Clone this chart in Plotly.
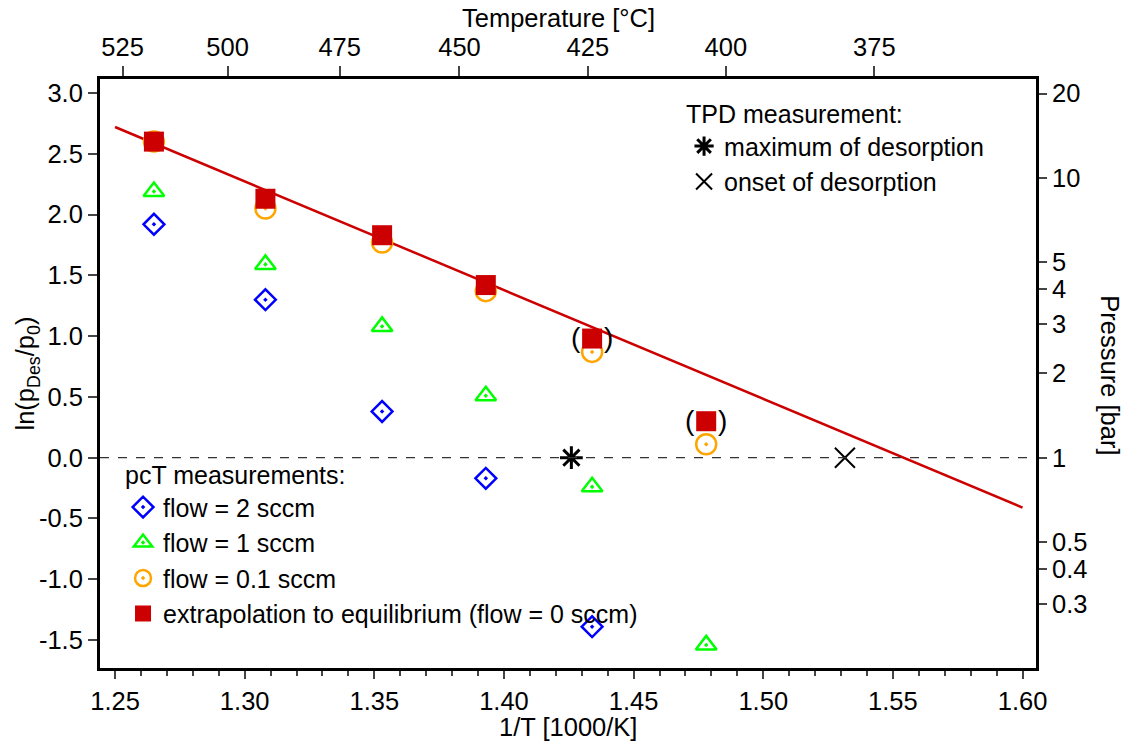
import numpy as np
import plotly.graph_objects as go

# ---- data ----
flow2_x = [1.265, 1.308, 1.353, 1.393, 1.434]
flow2_y = [1.92, 1.30, 0.38, -0.17, -1.39]
flow1_x = [1.265, 1.308, 1.353, 1.393, 1.434, 1.478]
flow1_y = [2.19, 1.59, 1.08, 0.51, -0.24, -1.54]
flow01_x = [1.265, 1.308, 1.353, 1.393, 1.434, 1.478]
flow01_y = [2.60, 2.05, 1.77, 1.37, 0.87, 0.11]
equil_x = [1.265, 1.308, 1.353, 1.393, 1.434, 1.478]
equil_y = [2.60, 2.13, 1.83, 1.42, 0.98, 0.30]
bracket_x = [1.434, 1.478]      # points marked with parentheses
bracket_y = [0.98, 0.30]
fit_x = [1.25, 1.60]
fit_y = [2.72, -0.41]
tpd_max_x = [1.426]
tpd_max_y = [0.0]
tpd_onset_x = [1.5315]
tpd_onset_y = [0.0]
ref_line_y = 0.0                # ln(1 bar)

x_range = [1.2442, 1.6052]
y_range = [-1.73, 3.115]
x_ticks = [1.25, 1.30, 1.35, 1.40, 1.45, 1.50, 1.55, 1.60]
y_ticks = [-1.5, -1.0, -0.5, 0.0, 0.5, 1.0, 1.5, 2.0, 2.5, 3.0]
temp_labels = [525, 500, 475, 450, 425, 400, 375]          # °C
pressure_labels = [20, 10, 5, 4, 3, 2, 1, 0.5, 0.4, 0.3]    # bar

FONT = "Liberation Sans, Arial, sans-serif"
FS = 25.5
LFS = 25

fig = go.Figure()

# fitted line
fig.add_trace(go.Scatter(x=fit_x, y=fit_y, mode="lines",
                         line=dict(color="#cc0000", width=2.5), showlegend=False,
                         hoverinfo="skip"))
# dashed reference line at 1 bar (drawn on the secondary axes)
fig.add_trace(go.Scatter(x=x_range, y=[ref_line_y, ref_line_y], mode="lines",
                         line=dict(color="#333333", width=1.3, dash="dash"),
                         xaxis="x2", yaxis="y2", showlegend=False, hoverinfo="skip"))

fig.add_trace(go.Scatter(x=flow2_x, y=flow2_y, mode="markers", name="flow = 2 sccm",
                         marker=dict(symbol="diamond-open-dot", size=16, color="#0000ff",
                                     line=dict(width=2.5, color="#0000ff")),
                         legend="legend"))
fig.add_trace(go.Scatter(x=flow1_x, y=flow1_y, mode="markers", name="flow = 1 sccm",
                         marker=dict(symbol="triangle-up-open-dot", size=18, color="#00ff00",
                                     line=dict(width=2.5, color="#00ff00")),
                         legend="legend"))
fig.add_trace(go.Scatter(x=flow01_x, y=flow01_y, mode="markers", name="flow = 0.1 sccm",
                         marker=dict(symbol="circle-open-dot", size=20, color="#ffa500",
                                     line=dict(width=2.5, color="#ffa500")),
                         legend="legend"))
fig.add_trace(go.Scatter(x=equil_x, y=equil_y, mode="markers",
                         name="extrapolation to equilibrium (flow = 0 sccm)",
                         marker=dict(symbol="square", size=20, color="#cc0000",
                                     line=dict(width=0)),
                         legend="legend"))
fig.add_trace(go.Scatter(x=tpd_max_x, y=tpd_max_y, mode="markers", name="maximum of desorption",
                         marker=dict(symbol="asterisk-open", size=19, color="black",
                                     line=dict(width=3, color="black")),
                         legend="legend2"))
fig.add_trace(go.Scatter(x=tpd_onset_x, y=tpd_onset_y, mode="markers", name="onset of desorption",
                         marker=dict(symbol="x-thin-open", size=20, color="black",
                                     line=dict(width=2, color="black")),
                         legend="legend2"))

# parentheses around uncertain points
for bx, by in zip(bracket_x, bracket_y):
    fig.add_annotation(x=bx, y=by, text="(", showarrow=False, xshift=-16, yshift=1,
                       font=dict(family=FONT, size=28, color="black"))
    fig.add_annotation(x=bx, y=by, text=")", showarrow=False, xshift=16, yshift=1,
                       font=dict(family=FONT, size=28, color="black"))

axis_common = dict(showline=True, linewidth=3, linecolor="black", showgrid=False,
                   zeroline=False, ticks="outside", tickwidth=1.5, tickcolor="#444444",
                   automargin=False,
                   tickfont=dict(family=FONT, size=FS, color="black"))

fig.update_layout(
    width=1124, height=742,
    margin=dict(l=100, r=88, t=79, b=74, autoexpand=False),
    paper_bgcolor="white", plot_bgcolor="white",
    font=dict(family=FONT, size=FS, color="black"),
    xaxis=dict(range=x_range, tickvals=x_ticks, ticktext=[f"{v:.2f}" for v in x_ticks],
               ticklen=8, minor=dict(dtick=0.01, ticks="outside", ticklen=5, tickwidth=1.5,
                                     tickcolor="#444444", showgrid=False),
               **axis_common),
    yaxis=dict(range=y_range, tickvals=y_ticks, ticktext=[f"{v:.1f}" for v in y_ticks],
               ticklen=9, **axis_common),
    xaxis2=dict(range=x_range, overlaying="x", side="top", anchor="y",
                tickvals=[1000.0 / (t + 273.15) for t in temp_labels],
                ticktext=[str(t) for t in temp_labels], ticklen=10, **axis_common),
    yaxis2=dict(range=y_range, overlaying="y", side="right", anchor="x",
                tickvals=[float(np.log(p)) for p in pressure_labels],
                ticktext=[str(p) for p in pressure_labels], ticklen=8, **axis_common),
    legend=dict(x=0.0246, y=0.367, xanchor="left", yanchor="top",
                bgcolor="rgba(0,0,0,0)", borderwidth=0,
                title=dict(text="pcT measurements:", font=dict(family=FONT, size=LFS)),
                font=dict(family=FONT, size=LFS), tracegroupgap=0),
    legend2=dict(x=0.624, y=0.98, xanchor="left", yanchor="top",
                 bgcolor="rgba(0,0,0,0)", borderwidth=0,
                 title=dict(text="TPD measurement:", font=dict(family=FONT, size=LFS)),
                 font=dict(family=FONT, size=LFS), tracegroupgap=0),
    showlegend=True,
)

# axis titles
fig.add_annotation(text="1/T [1000/K]", xref="paper", yref="paper", x=0.5, y=-0.1,
                   xanchor="center", yanchor="middle", showarrow=False,
                   font=dict(family=FONT, size=FS))
fig.add_annotation(text="Temperature [°C]", xref="paper", yref="paper", x=0.49, y=1.103,
                   xanchor="center", yanchor="middle", showarrow=False,
                   font=dict(family=FONT, size=FS))
fig.add_annotation(text="ln(p<sub>Des</sub>/p<sub>0</sub>)", xref="paper", yref="paper",
                   x=-0.078, y=0.5, xanchor="center", yanchor="middle", textangle=-90,
                   showarrow=False, font=dict(family=FONT, size=FS))
fig.add_annotation(text="Pressure [bar]", xref="paper", yref="paper",
                   x=1.079, y=0.497, xanchor="center", yanchor="middle", textangle=90,
                   showarrow=False, font=dict(family=FONT, size=FS))

# remove the default 8 px page margin so the figure fills the window exactly
fig.write_html("out.html", config={"displayModeBar": False},
               post_script="document.body.style.margin='0';document.body.style.overflow='hidden';")
